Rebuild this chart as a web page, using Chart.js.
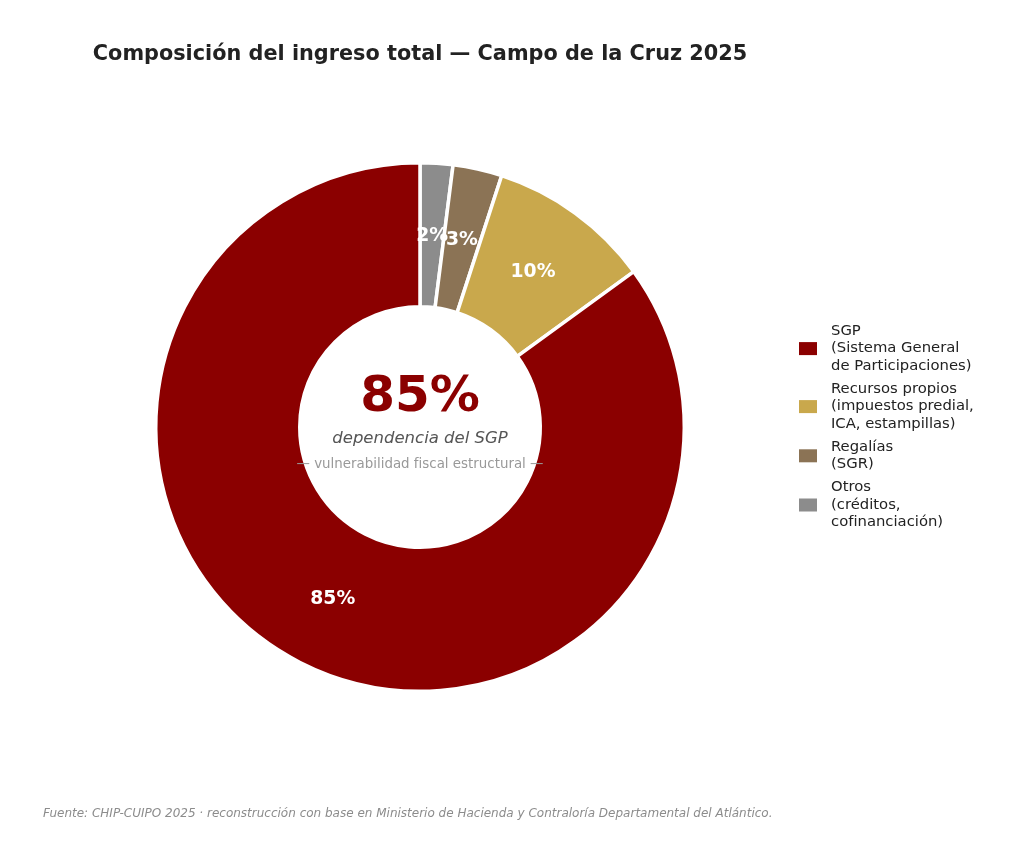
<!DOCTYPE html>
<html lang="es">
<head>
<meta charset="utf-8">
<title>Composición del ingreso total — Campo de la Cruz 2025</title>
<script src="https://cdn.jsdelivr.net/npm/chart.js@4.4.1/dist/chart.umd.min.js"></script>
<style>
	body { margin: 0; background: #fff; }
	#wrap { width: 1024px; height: 862px; }
</style>
</head>
<body>
<div id="wrap"><canvas id="income-chart" width="1024" height="862"></canvas></div>
<script>
// data
const categories = [
	['SGP', '(Sistema General', 'de Participaciones)'],
	['Recursos propios', '(impuestos predial,', 'ICA, estampillas)'],
	['Regalías', '(SGR)'],
	['Otros', '(créditos,', 'cofinanciación)']
];
const shares = [85, 10, 3, 2];
const colors = ['#8b0000', '#c9a84c', '#8b7355', '#8c8c8c'];

const FONT = '"DejaVu Sans", "Liberation Sans", sans-serif';

// matplotlib draws counter-clockwise from the top, chart.js goes clockwise -> reverse
const revLabels = categories.slice().reverse();
const revShares = shares.slice().reverse();
const revColors = colors.slice().reverse();

const decor = {
	id: 'decor',
	afterDatasetsDraw(chart) {
		const ctx = chart.ctx;
		const meta = chart.getDatasetMeta(0);
		ctx.save();

		// slice labels
		ctx.fillStyle = '#fff';
		ctx.font = 'bold 18.8px ' + FONT;
		ctx.textAlign = 'center';
		ctx.textBaseline = 'middle';
		meta.data.forEach(function (arc, i) {
			const p = arc.tooltipPosition();
			ctx.fillText(revShares[i] + '%', p.x, p.y + 0.5);
		});

		// centre text
		const cx = meta.data[0].x;
		ctx.fillStyle = '#8b0000';
		ctx.font = 'bold 50px ' + FONT;
		ctx.fillText(shares[0] + '%', cx, 398);
		ctx.fillStyle = '#555';
		ctx.font = 'italic 16.5px ' + FONT;
		ctx.fillText('dependencia del SGP', cx, 439);
		ctx.fillStyle = '#999';
		ctx.font = '13.4px ' + FONT;
		ctx.fillText('— vulnerabilidad fiscal estructural —', cx, 465);

		// title
		ctx.fillStyle = '#222';
		ctx.font = 'bold 20.8px ' + FONT;
		ctx.fillText('Composición del ingreso total — Campo de la Cruz 2025', cx, 55);

		// footer
		ctx.textAlign = 'left';
		ctx.fillStyle = '#8c8c8c';
		ctx.font = 'italic 12px ' + FONT;
		ctx.fillText('Fuente: CHIP-CUIPO 2025 · reconstrucción con base en Ministerio de Hacienda y Contraloría Departamental del Atlántico.', 43, 814);

		// legend
		const lineH = 17.6;
		const gap = 5.2;
		let y = 331;
		ctx.font = '14.8px ' + FONT;
		categories.forEach(function (lines, i) {
			const mid = y + (lines.length - 1) * lineH / 2;
			ctx.fillStyle = colors[i];
			ctx.fillRect(799, mid - 6.5, 18, 13);
			ctx.fillStyle = '#222';
			lines.forEach(function (t, j) {
				ctx.fillText(t, 831, y + j * lineH);
			});
			y += lines.length * lineH + gap;
		});

		ctx.restore();
	}
};

const incomeChart = new Chart(document.getElementById('income-chart'), {
	type: 'doughnut',
	data: {
		labels: revLabels,
		datasets: [{
			data: revShares,
			backgroundColor: revColors,
			borderColor: '#fff',
			borderWidth: 3.5
		}]
	},
	options: {
		responsive: false,
		animation: false,
		cutout: '45.5%',
		layout: { padding: { left: 154, right: 338, top: 161, bottom: 169 } },
		plugins: {
			legend: { display: false },
			tooltip: { enabled: false }
		}
	},
	plugins: [decor]
});
</script>
</body>
</html>
